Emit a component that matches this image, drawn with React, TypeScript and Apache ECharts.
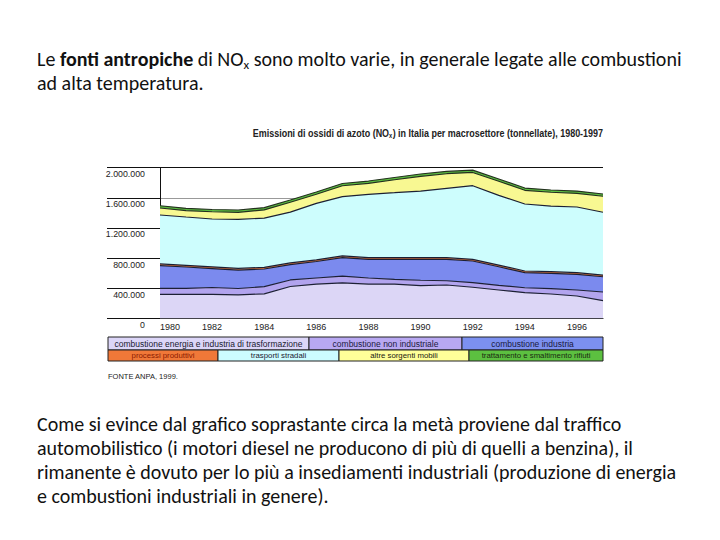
import React, { useEffect, useRef } from 'react';
import * as echarts from 'echarts';

// Years on the x axis
const years = ['1980', '1981', '1982', '1983', '1984', '1985', '1986', '1987', '1988', '1989', '1990', '1991', '1992', '1993', '1994', '1995', '1996', '1997'];

// Emissions by macro-sector, thousands of tonnes (stacked from bottom)
const energia = [319, 319, 319, 310, 325, 422, 455, 470, 455, 455, 435, 442, 412, 376, 340, 323, 296, 234];
const nonIndustriale = [79, 79, 90, 86, 95, 87, 80, 90, 80, 63, 70, 57, 61, 62, 66, 70, 80, 115];
const industria = [302, 283, 252, 245, 235, 205, 219, 247, 248, 265, 278, 284, 288, 247, 200, 204, 208, 203];
const processi = [22, 22, 22, 22, 22, 22, 22, 22, 22, 22, 22, 22, 22, 22, 22, 22, 22, 22];
const trasporti = [650, 642, 636, 652, 653, 674, 751, 786, 842, 863, 885, 921, 978, 926, 890, 872, 872, 834];
const altreMobili = [93, 86, 96, 93, 109, 131, 120, 145, 146, 172, 196, 194, 176, 187, 182, 183, 182, 213];
const rifiuti = [30, 30, 30, 30, 30, 30, 30, 30, 30, 30, 30, 30, 30, 30, 30, 30, 30, 30];

const legendLabels = [
  'combustione energia e industria di trasformazione',
  'combustione non industriale',
  'combustione industria',
  'processi produttivi',
  'trasporti stradali',
  'altre sorgenti mobili',
  'trattamento e smaltimento rifiuti',
];

const areaColors = ['#dcd6f6', '#b2a4ee', '#7b8aee', '#ee7a3c', '#cdfdfd', '#f8f892', '#5cbc40'];
const legendColors = ['#dcd6f8', '#b8a8f2', '#7c90f0', '#f07838', '#ccfcff', '#ffff99', '#5cc040'];
const legendTextColors = ['#1a1a30', '#1a1a40', '#1a1a40', '#8b1a00', '#1a1a30', '#1a1a10', '#1a2a10'];

const seriesData = [energia, nonIndustriale, industria, processi, trasporti, altreMobili, rifiuti];

const yMax = 2000;
const yStep = 400;

const titleText = 'Emissioni di ossidi di azoto (NO{sub|x}) in Italia per macrosettore (tonnellate), 1980-1997';
const sourceText = 'FONTE ANPA, 1999.';

const introLines = [
  'Le {b|fonti antropiche} di NO{s|x} sono molto varie, in generale legate alle combustioni',
  'ad alta temperatura.',
];
const outroLines = [
  'Come si evince dal grafico soprastante circa la metà proviene dal traffico',
  'automobilistico (i motori diesel ne producono di più di quelli a benzina), il',
  'rimanente è dovuto per lo più a insediamenti industriali (produzione di energia',
  'e combustioni industriali in genere).',
];

const fmtThousands = (v: number) => String(Math.round(v * 1000)).replace(/\B(?=(\d{3})+(?!\d))/g, '.');

const BODY_FONT = 'Carlito, Calibri, Lato, sans-serif';
const CHART_FONT = '"Liberation Sans", Arial, sans-serif';
const BODY_SIZE = 20;

export default function App() {
  const ref = useRef<HTMLDivElement>(null);

  useEffect(() => {
    if (!ref.current) return;
    const chart = echarts.init(ref.current, null, { renderer: 'svg' });

    const bodyRich = {
      b: { fontFamily: BODY_FONT, fontSize: BODY_SIZE, fontWeight: 'bold', color: '#111' },
      s: { fontFamily: BODY_FONT, fontSize: 13, color: '#111', verticalAlign: 'bottom', padding: [10, 0, 0, 0] },
    };

    const els: any[] = [];
    introLines.forEach((t, i) => {
      els.push({
        type: 'text', left: 37, top: 49 + i * 24,
        style: { text: t, fontFamily: BODY_FONT, fontSize: BODY_SIZE, fill: '#111', rich: bodyRich },
      });
    });
    outroLines.forEach((t, i) => {
      els.push({
        type: 'text', left: 37, top: 414 + i * 24,
        style: { text: t, fontFamily: BODY_FONT, fontSize: BODY_SIZE, fill: '#111' },
      });
    });

    // chart title (condensed look via horizontal scale)
    els.push({
      type: 'text',
      x: 603,
      y: 133,
      scaleX: 0.815,
      style: {
        text: titleText,
        fontFamily: CHART_FONT,
        fontSize: 11,
        fontWeight: 'bold',
        fill: '#222',
        align: 'right',
        verticalAlign: 'middle',
        rich: {
          sub: { fontFamily: CHART_FONT, fontSize: 7, fontWeight: 'bold', fill: '#222', verticalAlign: 'bottom', padding: [5, 0, 0, 0] },
        },
      },
    });

    // legend table
    const rows = [
      { idx: [0, 1, 2], edges: [108, 309, 462, 603], y: 337, h: 13 },
      { idx: [3, 4, 5, 6], edges: [108, 218, 339, 469, 603], y: 350, h: 11 },
    ];
    rows.forEach((r) => {
      r.idx.forEach((si, k) => {
        const x0 = r.edges[k];
        const x1 = r.edges[k + 1];
        els.push({
          type: 'rect',
          shape: { x: x0, y: r.y, width: x1 - x0, height: r.h },
          style: { fill: legendColors[si], stroke: '#222', lineWidth: 1 },
        });
        els.push({
          type: 'text',
          x: (x0 + x1) / 2, y: r.y + r.h / 2,
          style: {
            text: legendLabels[si], fill: legendTextColors[si], fontFamily: CHART_FONT,
            fontSize: si < 3 ? 8.5 : 7.8, align: 'center', verticalAlign: 'middle',
          },
        });
      });
    });
    els.push({
      type: 'text', left: 108, top: 372,
      style: { text: sourceText, fontFamily: CHART_FONT, fontSize: 7.5, fill: '#222' },
    });

    chart.setOption({
      animation: false,
      backgroundColor: '#fff',
      grid: { left: 160, right: 117, top: 167.7, bottom: 221.7, containLabel: false },
      xAxis: {
        type: 'category',
        data: years,
        boundaryGap: false,
        axisLine: { show: true, lineStyle: { color: '#111', width: 1 } },
        axisTick: { show: true, inside: true, length: 4, interval: 1, lineStyle: { color: '#111' } },
        axisLabel: {
          interval: 1, fontSize: 9, fontFamily: CHART_FONT, color: '#222', margin: 4,
          alignMinLabel: 'left',
        },
        splitLine: { show: false },
      },
      yAxis: {
        type: 'value',
        min: 0,
        max: yMax,
        interval: yStep,
        axisLine: { show: true, lineStyle: { color: '#111', width: 1 } },
        axisTick: { show: true, inside: false, length: 53, lineStyle: { color: '#111', width: 1 } },
        axisLabel: {
          fontSize: 8.8, fontFamily: CHART_FONT, color: '#222', margin: 15,
          verticalAlign: 'top', padding: [2, 0, 0, 0], formatter: (v: number) => fmtThousands(v),
        },
        splitLine: {
          show: true,
          lineStyle: { color: ['rgba(0,0,0,0)', 'rgba(0,0,0,0)', 'rgba(0,0,0,0)', 'rgba(0,0,0,0)', '#999', '#111'], width: 1 },
        },
      },
      series: seriesData.map((d, i) => ({
        type: 'line',
        name: legendLabels[i],
        stack: 'total',
        data: d,
        symbol: 'none',
        lineStyle: { width: 1.2, color: i === 6 || i === 5 ? '#23301e' : '#1c2034' },
        areaStyle: { color: areaColors[i], opacity: 1 },
        itemStyle: { color: areaColors[i] },
        z: 2,
      })),
      graphic: els,
    });

    return () => chart.dispose();
  }, []);

  return <div ref={ref} style={{ position: 'fixed', left: 0, top: 0, width: 720, height: 540, background: '#fff' }} />;
}
